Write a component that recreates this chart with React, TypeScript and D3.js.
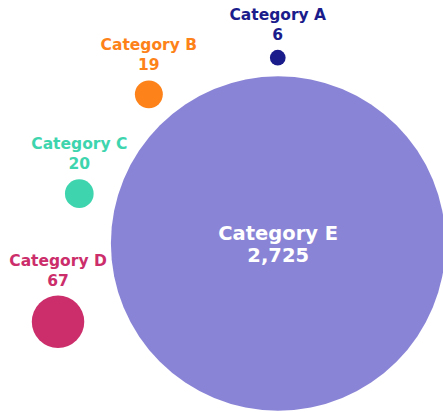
import React from "react";
import * as d3 from "d3";

const categories = ["Category A", "Category B", "Category C", "Category D", "Category E"];
const values = [6, 19, 20, 67, 2725];
// layout position of each bubble, in percent of the chart width / height
const layoutX = [62.7, 33.6, 17.9, 13.1, 62.8];
const layoutY = [14.0, 22.9, 47.0, 78.1, 59.1];
const colors = ["#1b1c8c", "#fd8219", "#3ed5ae", "#cc2d6b", "#8a84d6"];

const W = 443;
const H = 412;

export default function App() {
  const x = d3.scaleLinear().domain([0, 100]).range([0, W]);
  const y = d3.scaleLinear().domain([0, 100]).range([0, H]);
  const r = d3.scaleSqrt().domain([0, d3.max(values) as number]).range([0, 167.3]);
  const fmt = d3.format(",");
  const maxIdx = values.indexOf(d3.max(values) as number);
  const font = "'DejaVu Sans', sans-serif";

  return (
    <svg
      width={W}
      height={H}
      style={{ position: "absolute", left: 0, top: 0, display: "block" }}
    >
      {categories.map((c, i) => {
        const cx = x(layoutX[i]);
        const cy = y(layoutY[i]);
        const rr = r(values[i]);
        const big = i === maxIdx;
        return (
          <g key={c}>
            <circle cx={cx} cy={cy} r={rr} fill={colors[i]} />
            {big ? (
              <text
                x={cx}
                textAnchor="middle"
                fill="#ffffff"
                fontFamily={font}
                fontWeight={700}
                fontSize={19.5}
              >
                <tspan x={cx} y={cy - 3}>{c}</tspan>
                <tspan x={cx} y={cy + 18.5}>{fmt(values[i])}</tspan>
              </text>
            ) : (
              <text
                x={cx}
                textAnchor="middle"
                fill={colors[i]}
                fontFamily={font}
                fontWeight={700}
                fontSize={15.5}
              >
                <tspan x={cx} y={cy - rr - 30}>{c}</tspan>
                <tspan x={cx} y={cy - rr - 10}>{fmt(values[i])}</tspan>
              </text>
            )}
          </g>
        );
      })}
    </svg>
  );
}
